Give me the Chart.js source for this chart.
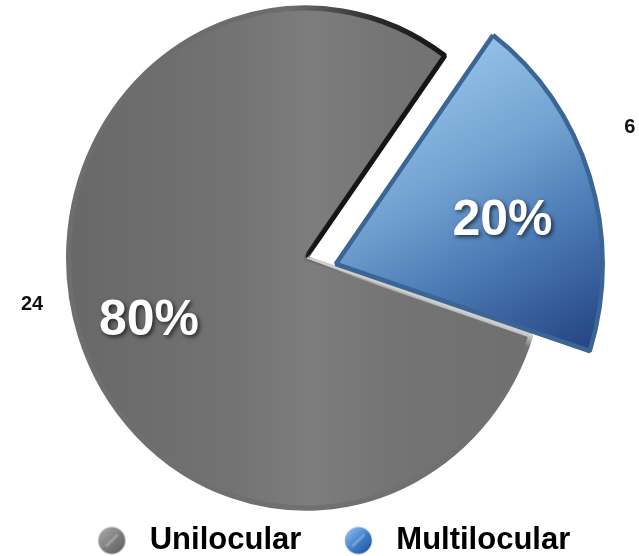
<!DOCTYPE html>
<html>
<head>
<meta charset="utf-8">
<script src="https://cdn.jsdelivr.net/npm/chart.js@4.4.1/dist/chart.umd.min.js"></script>
<style>
  html, body { margin: 0; padding: 0; background: #ffffff; overflow: hidden; }
  #wrap { width: 639px; height: 556px; overflow: hidden; position: relative; }
  canvas { display: block; }
</style>
</head>
<body>
<div id="wrap"><canvas id="chart" width="639" height="566"></canvas></div>
<script>
// Cyst type counts
const categories = ['Unilocular', 'Multilocular'];
const counts = [24, 6];

const total = counts.reduce((a, b) => a + b, 0);
const percentLabels = counts.map(v => Math.round(v / total * 100) + '%');
const countLabels = counts.map(v => String(v));

// Pie geometry and look
const ROTATION = 108;              // degrees, start of the first slice
const RADIUS = 237;
const OFFSETS = [0, 137];          // exploded second slice
const SHIFT_X = -14;               // horizontal placement of the pie
const SCALE_Y = 1.055;             // slight vertical stretch
// extra perspective for each slice, scaled about the slice tip
const sliceShape = [
  { kx: 1, ky: 1, dx: 0, dy: 0 },
  { kx: 1.118, ky: 1.124, dx: -2, dy: 17 }
];
const labelPlacement = [
  { pctR: 0.707, pctA: -2.9, valR: 1.169, valA: 8.8 },
  { pctR: 0.640, pctA: 4.4, valR: 1.203, valA: -5.6 }
];

function sliceFrame(chart, i) {
  const a = chart.chartArea;
  const cx = (a.left + a.right) / 2, cy = (a.top + a.bottom) / 2;
  let start = ROTATION * Math.PI / 180 - Math.PI / 2;
  for (let j = 0; j < i; j++) start += counts[j] / total * Math.PI * 2;
  const circ = counts[i] / total * Math.PI * 2;
  const mid = start + circ / 2;
  const t = OFFSETS[i] / 4 * (2 - Math.sin(Math.min(Math.PI, circ)));
  const tip = [cx + Math.cos(mid) * t, cy + Math.sin(mid) * t];
  const T = [tip[0] + SHIFT_X, cy + (tip[1] - cy) * SCALE_Y];
  return { cx, cy, T, s: sliceShape[i] };
}
function toPage(chart, i, x, y) {
  const f = sliceFrame(chart, i);
  const gx = x + SHIFT_X, gy = f.cy + (y - f.cy) * SCALE_Y;
  return [f.T[0] + (gx - f.T[0]) * f.s.kx + f.s.dx, f.T[1] + (gy - f.T[1]) * f.s.ky + f.s.dy];
}
function fromPage(chart, i, X, Y) {
  const f = sliceFrame(chart, i);
  const gx = f.T[0] + (X - f.s.dx - f.T[0]) / f.s.kx;
  const gy = f.T[1] + (Y - f.s.dy - f.T[1]) / f.s.ky;
  return [gx - SHIFT_X, f.cy + (gy - f.cy) / SCALE_Y];
}
function applyFrame(ctx, chart, i) {
  const f = sliceFrame(chart, i);
  ctx.translate(f.T[0] + f.s.dx, f.T[1] + f.s.dy);
  ctx.scale(f.s.kx, f.s.ky);
  ctx.translate(-f.T[0], -f.T[1]);
  ctx.translate(SHIFT_X, f.cy);
  ctx.scale(1, SCALE_Y);
  ctx.translate(0, -f.cy);
}

function sliceFill(c) {
  const chart = c.chart;
  const i = c.dataIndex;
  if (!chart.chartArea) return i === 0 ? '#747474' : '#4f7fb8';
  const g = chart.ctx;
  if (i === 0) {
    const p0 = fromPage(chart, 0, 60, 260), p1 = fromPage(chart, 0, 560, 260);
    const grad = g.createLinearGradient(p0[0], p0[1], p1[0], p1[1]);
    grad.addColorStop(0, '#676767');
    grad.addColorStop(0.35, '#737373');
    grad.addColorStop(0.5, '#7d7d7d');
    grad.addColorStop(0.66, '#747474');
    grad.addColorStop(1, '#6e6e6e');
    return grad;
  }
  const p0 = fromPage(chart, 1, 450, 50), p1 = fromPage(chart, 1, 600, 360);
  const grad = g.createLinearGradient(p0[0], p0[1], p1[0], p1[1]);
  grad.addColorStop(0, '#93c0e7');
  grad.addColorStop(0.3, '#74a3d2');
  grad.addColorStop(0.58, '#4b7ab5');
  grad.addColorStop(1, '#1e3b79');
  return grad;
}

function sliceBorder(c) {
  const chart = c.chart;
  const i = c.dataIndex;
  if (!chart.chartArea) return i === 0 ? '#555555' : '#3d6898';
  if (i === 1) return '#3a6595';
  const g = chart.ctx;
  const a = chart.chartArea;
  const cx = (a.left + a.right) / 2, cy = (a.top + a.bottom) / 2;
  const grad = g.createConicGradient(0, cx, cy);
  grad.addColorStop(0, '#cfcfcf');
  grad.addColorStop(0.05, '#cfcfcf');
  grad.addColorStop(0.058, '#717171');
  grad.addColorStop(0.74, '#6c6c6c');
  grad.addColorStop(0.8, '#2a2a2a');
  grad.addColorStop(0.86, '#111111');
  grad.addColorStop(0.93, '#555555');
  grad.addColorStop(1, '#cfcfcf');
  return grad;
}

function makeMarker(c0, c1, c2) {
  const cv = document.createElement('canvas');
  cv.width = 60; cv.height = 30;
  const g = cv.getContext('2d');
  const x = 40.25, y = 15, r = 13.5;
  const grad = g.createLinearGradient(x - r, y - r, x + r, y + r);
  grad.addColorStop(0, c0);
  grad.addColorStop(0.55, c1);
  grad.addColorStop(1, c2);
  g.fillStyle = grad;
  g.beginPath();
  g.arc(x, y, r, 0, Math.PI * 2);
  g.fill();
  g.save();
  g.beginPath();
  g.arc(x, y, r, 0, Math.PI * 2);
  g.clip();
  g.strokeStyle = 'rgba(255,255,255,0.25)';
  g.lineWidth = 3;
  g.beginPath();
  g.moveTo(x - 6, y + 6);
  g.lineTo(x + 6, y - 6);
  g.stroke();
  g.restore();
  return cv;
}
const legendMarkers = [
  makeMarker('#b0b0b0', '#7c7c7c', '#5c5c5c'),
  makeMarker('#9ccaf2', '#3f7cc6', '#1d4f96')
];

const piePlugin = {
  id: 'pieLook',
  beforeDatasetDraw(chart, args) {
    if (args.index !== 0) return;
    const ctx = chart.ctx;
    args.meta.data.forEach((el, i) => {
      ctx.save();
      applyFrame(ctx, chart, i);
      el.draw(ctx, chart.chartArea);
      ctx.restore();
    });
    return false;
  },
  afterDatasetsDraw(chart) {
    const ctx = chart.ctx;
    const meta = chart.getDatasetMeta(0);
    meta.data.forEach((el, i) => {
      const mid = (el.startAngle + el.endAngle) / 2;
      const circ = el.endAngle - el.startAngle;
      const t = OFFSETS[i] / 4 * (2 - Math.sin(Math.min(Math.PI, circ)));
      const ex = el.x + Math.cos(mid) * t;
      const ey = el.y + Math.sin(mid) * t;
      const R = el.outerRadius;
      const lp = labelPlacement[i];

      const a1 = mid + lp.pctA * Math.PI / 180;
      const p = toPage(chart, i, ex + Math.cos(a1) * R * lp.pctR, ey + Math.sin(a1) * R * lp.pctR);
      ctx.save();
      ctx.font = 'bold 50px "Liberation Sans", Arial, sans-serif';
      ctx.textAlign = 'center';
      ctx.textBaseline = 'middle';
      ctx.shadowColor = 'rgba(0,0,0,0.65)';
      ctx.shadowBlur = 4;
      ctx.shadowOffsetX = 2;
      ctx.shadowOffsetY = 2;
      ctx.fillStyle = '#ffffff';
      ctx.fillText(percentLabels[i], p[0], p[1]);
      ctx.restore();

      const a2 = mid + lp.valA * Math.PI / 180;
      const q = toPage(chart, i, ex + Math.cos(a2) * R * lp.valR, ey + Math.sin(a2) * R * lp.valR);
      ctx.save();
      ctx.font = 'bold 20px "Liberation Sans", Arial, sans-serif';
      ctx.textAlign = 'center';
      ctx.textBaseline = 'middle';
      ctx.fillStyle = '#111111';
      ctx.fillText(countLabels[i], q[0], q[1]);
      ctx.restore();
    });
  }
};

new Chart(document.getElementById('chart'), {
  type: 'pie',
  data: {
    labels: categories,
    datasets: [{
      data: counts,
      backgroundColor: sliceFill,
      borderColor: sliceBorder,
      borderWidth: [5, 4],
      offset: OFFSETS,
      rotation: ROTATION,
      radius: RADIUS
    }]
  },
  options: {
    responsive: false,
    animation: false,
    devicePixelRatio: 1,
    events: [],
    layout: { padding: { top: 5 } },
    plugins: {
      tooltip: { enabled: false },
      legend: {
        position: 'bottom',
        labels: {
          usePointStyle: true,
          pointStyleWidth: 65.5,
          padding: 14,
          color: '#000000',
          font: { family: '"Liberation Sans", Arial, sans-serif', size: 31, weight: 'bold' },
          generateLabels(chart) {
            return chart.data.labels.map((text, i) => ({
              text,
              pointStyle: legendMarkers[i],
              fillStyle: 'rgba(0,0,0,0)',
              strokeStyle: 'rgba(0,0,0,0)',
              lineWidth: 0,
              fontColor: '#000000',
              hidden: false,
              index: i,
              datasetIndex: 0
            }));
          }
        }
      }
    }
  },
  plugins: [piePlugin]
});
</script>
</body>
</html>
